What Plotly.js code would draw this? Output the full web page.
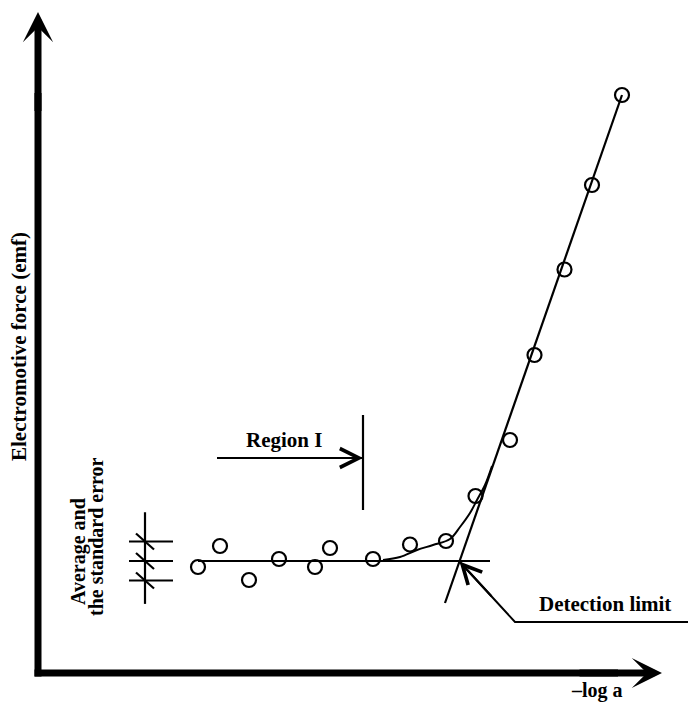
<!DOCTYPE html>
<html><head><meta charset="utf-8">
<script src="https://cdn.plot.ly/plotly-3.0.1.min.js"></script>
<style>html,body{margin:0;padding:0;background:#fff}</style>
</head><body><div id="chart" style="width:688px;height:703px"></div>
<script>
// measured points: -log a (arbitrary units) vs electromotive force (arbitrary units)
const logA = [16.0, 18.2, 21.1, 24.1, 27.7, 29.2, 33.5, 37.2, 40.8, 43.75, 47.2, 49.65, 52.65, 55.4, 58.4];
const emf  = [10.6, 12.7, 9.3, 11.4, 10.6, 12.5, 11.4, 12.85, 13.2, 17.7, 23.3, 31.8, 40.35, 48.8, 57.8];
// average of the low-activity plateau and its standard error
const avgSpan = [16.0, 45.2];
const avgEmf = 11.2;
const stdErr = 1.95;
// linear (Nernstian) response line
const fitX = [40.7, 58.4];
const fitY = [7.0, 57.8];
// curve through the transition
const curveX = [34.5, 36.2, 37.9, 39.5, 41.2, 42.2, 43.2, 43.9, 44.7, 45.4];
const curveY = [11.3, 11.6, 12.3, 12.8, 13.4, 14.6, 16.0, 17.3, 18.8, 20.7];
// end of region I
const regionIEnd = 32.5;
// detection limit (intersection of the two lines)
const detLimitX = 42.15;
const detLimitY = 11.15;

const K = 'black';
const FONT = {family: 'Liberation Serif, Times New Roman, serif', size: 21, color: K, weight: 'bold'};

// error symbol at the left
const symX = 10.7;
const levels = [avgEmf + stdErr, avgEmf, avgEmf - stdErr];
const errX = [], errY = [];
errX.push(symX, symX, null); errY.push(avgEmf - 2.2*stdErr, avgEmf + 2.5*stdErr, null);
levels.forEach(v => {
  errX.push(symX - 1.6, symX + 2.8, null); errY.push(v, v, null);
  errX.push(symX - 0.9, symX + 0.9, null); errY.push(v + 0.8, v - 0.8, null);
});

const traces = [
  {x: errX, y: errY, mode: 'lines', line: {color: K, width: 2.2}},
  {x: avgSpan, y: [avgEmf, avgEmf], mode: 'lines', line: {color: K, width: 2.2}},
  {x: fitX, y: fitY, mode: 'lines', line: {color: K, width: 2.2}},
  {x: curveX, y: curveY, mode: 'lines', line: {color: K, width: 2, shape: 'spline', smoothing: 1}},
  {x: [regionIEnd, regionIEnd], y: [16.3, 25.8], mode: 'lines', line: {color: K, width: 2.2}},
  {x: [17.9, regionIEnd], y: [21.5, 21.5], mode: 'lines', line: {color: K, width: 2.2}},
  {x: [detLimitX, 47.7, 65.5], y: [detLimitY, 5.1, 5.1], mode: 'lines', line: {color: K, width: 2}},
  {x: logA, y: emf, mode: 'markers',
   marker: {symbol: 'circle-open', size: 14, color: K, line: {color: K, width: 2.2}}}
];

function arrow(x, y, ax, ay, head, w, s) {
  return {x: x, y: y, ax: ax, ay: ay, xref: 'x', yref: 'y', axref: 'x', ayref: 'y',
    text: ' ', font: {size: 1}, showarrow: true, arrowhead: head, arrowwidth: w,
    arrowsize: s, arrowcolor: K, standoff: 0, startstandoff: 0};
}
function label(text, x, y, angle, size) {
  return {x: x, y: y, xref: 'x', yref: 'y', text: text, showarrow: false,
    font: Object.assign({}, FONT, size ? {size: size} : {}),
    textangle: angle || 0, xanchor: 'center', yanchor: 'middle'};
}

const layout = {
  width: 688, height: 703,
  margin: {l: 0, r: 0, t: 0, b: 0},
  paper_bgcolor: 'white', plot_bgcolor: 'white',
  showlegend: false, hovermode: false,
  xaxis: {range: [-3.8, 65.0], visible: false, fixedrange: true},
  yaxis: {range: [-3.0, 67.3], visible: false, fixedrange: true},
  shapes: [
    {type: 'line', xref: 'x', yref: 'y', x0: 0, x1: 0, y0: -0.35, y1: 58, line: {color: K, width: 7}},
    {type: 'line', xref: 'x', yref: 'y', x0: -0.35, x1: 58, y0: 0, y1: 0, line: {color: K, width: 7}}
  ],
  annotations: [
    arrow(0, 66.1, 0, 56, 3, 7, 0.72),
    arrow(62.4, 0, 54, 0, 3, 7, 0.72),
    arrow(regionIEnd, 21.5, 24, 21.5, 5, 2.2, 1.7),
    arrow(detLimitX, detLimitY, 45.5, 7.5, 5, 2.2, 1.7),
    label('Region I', 24.6, 23.3),
    label('Detection limit', 56.7, 6.9),
    label('\u2013log a', 55.85, -1.75, 0, 20),
    label('Electromotive force (emf)', -1.9, 32.6, -90),
    label('Average and', 4.0, 12.1, -90, 20),
    label('the standard error', 5.8, 13.6, -90, 20)
  ]
};

Plotly.newPlot('chart', traces, layout, {staticPlot: true, displayModeBar: false});
</script>
</body></html>
